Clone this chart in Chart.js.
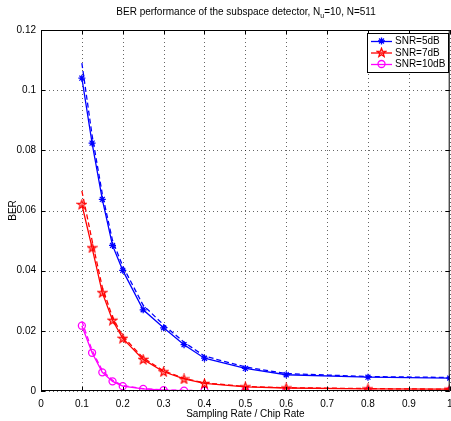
<!DOCTYPE html>
<html>
<head>
<meta charset="utf-8">
<script src="https://cdn.jsdelivr.net/npm/chart.js@4"></script>
<style>
  html, body { margin: 0; background: #fff; overflow: hidden; }
  canvas { display: block; }
</style>
</head>
<body>
<!-- a bit wider than the window so the right axis lands on the edge like the original -->
<canvas id="myChart" width="456" height="421"></canvas>
<script>
// sampling rate / chip rate
const xVals = [0.1, 0.125, 0.15, 0.175, 0.2, 0.25, 0.3, 0.35, 0.4, 0.5, 0.6, 0.8, 1.0];

// simulated (solid + markers) and analytical (dashed) BER
const ber5 = [0.104, 0.0824, 0.0637, 0.0484, 0.0401, 0.0270, 0.0210, 0.0154, 0.0109, 0.0075, 0.0054, 0.0046, 0.0043];
const ber5Theory = [0.109, 0.0850, 0.0655, 0.0500, 0.0415, 0.0285, 0.0220, 0.0162, 0.0116, 0.0080, 0.0058, 0.0048, 0.0045];
const ber7 = [0.062, 0.0476, 0.0327, 0.0235, 0.0175, 0.0105, 0.0064, 0.0040, 0.0025, 0.0014, 0.0010, 0.0007, 0.0006];
const ber7Theory = [0.0665, 0.0500, 0.0345, 0.0245, 0.0182, 0.0110, 0.0067, 0.0042, 0.0027, 0.0015, 0.0011, 0.0008, 0.0006];
const ber10 = [0.0217, 0.0127, 0.0062, 0.0032, 0.0016, 0.0007, 0.0003, 0.0001, 0.0001, 0, 0, 0, 0];
const ber10Theory = [0.0232, 0.0135, 0.0068, 0.0036, 0.0018, 0.0008, 0.0004, 0.0002, 0.0001, 0, 0, 0, 0];

const seriesLabels = ["SNR=5dB", "SNR=7dB", "SNR=10dB"];
const xTickLabels = ["0", "0.1", "0.2", "0.3", "0.4", "0.5", "0.6", "0.7", "0.8", "0.9", "1"];
const yTickLabels = ["0", "0.02", "0.04", "0.06", "0.08", "0.1", "0.12"];

const FONT = '"Liberation Sans", Arial, Helvetica, sans-serif';

// matlab style pentagram marker
const pentagram = (() => {
    const c = document.createElement("canvas");
    c.width = 11; c.height = 11;
    const g = c.getContext("2d");
    g.strokeStyle = "#ff0000";
    g.fillStyle = "rgba(255,0,0,0.35)";
    g.lineWidth = 1.2;
    g.beginPath();
    for (let i = 0; i < 10; i++) {
        const r = i % 2 ? 1.9 : 4.6;
        const a = -Math.PI / 2 + i * Math.PI / 5;
        g.lineTo(5.5 + r * Math.cos(a), 5.8 + r * Math.sin(a));
    }
    g.closePath();
    g.fill();
    g.stroke();
    return c;
})();

const pts = arr => arr.map((y, i) => ({ x: xVals[i], y: y }));

const solid = (label, data, color, style, radius) => ({
    label: label,
    data: pts(data),
    borderColor: color,
    backgroundColor: "rgba(0,0,0,0)",
    borderWidth: 1.3,
    pointStyle: style,
    pointRadius: radius,
    pointBorderColor: color,
    pointBorderWidth: 1.3,
    tension: 0
});

const dashed = (data, color) => ({
    label: "",
    data: pts(data),
    borderColor: color,
    borderWidth: 1.3,
    borderDash: [5, 3],
    pointRadius: 0,
    tension: 0
});

// dotted grid under the data
const dottedGrid = {
    id: "dottedGrid",
    beforeDatasetsDraw(chart) {
        const ctx = chart.ctx;
        const a = chart.chartArea;
        const xs = chart.scales.x, ys = chart.scales.y;
        ctx.save();
        ctx.strokeStyle = "rgba(0,0,0,0.6)";
        ctx.lineWidth = 1;
        ctx.setLineDash([1, 3]);
        ctx.beginPath();
        xs.ticks.forEach(t => {
            const px = Math.round(xs.getPixelForValue(t.value)) + 0.5;
            ctx.moveTo(px, a.bottom); ctx.lineTo(px, a.top);
        });
        ys.ticks.forEach(t => {
            const py = Math.round(ys.getPixelForValue(t.value)) + 0.5;
            ctx.moveTo(a.left, py); ctx.lineTo(a.right, py);
        });
        ctx.stroke();
        ctx.restore();
    }
};

// title, axes box, inward ticks and legend
const decor = {
    id: "decor",
    afterDraw(chart) {
        const ctx = chart.ctx;
        const a = chart.chartArea;
        const xs = chart.scales.x, ys = chart.scales.y;
        ctx.save();

        // box
        ctx.strokeStyle = "#000";
        ctx.lineWidth = 1;
        ctx.strokeRect(a.left + 0.5, a.top + 0.5, a.right - a.left - 1, a.bottom - a.top - 1);

        // ticks pointing in
        ctx.beginPath();
        xs.ticks.forEach(t => {
            const px = Math.round(xs.getPixelForValue(t.value)) + 0.5;
            ctx.moveTo(px, a.bottom); ctx.lineTo(px, a.bottom - 4);
            ctx.moveTo(px, a.top); ctx.lineTo(px, a.top + 4);
        });
        ys.ticks.forEach(t => {
            const py = Math.round(ys.getPixelForValue(t.value)) + 0.5;
            ctx.moveTo(a.left, py); ctx.lineTo(a.left + 4, py);
            ctx.moveTo(a.right, py); ctx.lineTo(a.right - 4, py);
        });
        ctx.stroke();

        // title with subscript
        const p1 = "BER performance of the subspace detector, N";
        const sub = "u";
        const p2 = "=10, N=511";
        ctx.fillStyle = "#000";
        ctx.textBaseline = "middle";
        ctx.textAlign = "left";
        ctx.font = "10px " + FONT;
        const w1 = ctx.measureText(p1).width, w3 = ctx.measureText(p2).width;
        ctx.font = "7px " + FONT;
        const w2 = ctx.measureText(sub).width;
        let tx = 246 - (w1 + w2 + w3) / 2;
        const ty = 12;
        ctx.font = "10px " + FONT;
        ctx.fillText(p1, tx, ty);
        ctx.font = "7px " + FONT;
        ctx.fillText(sub, tx + w1, ty + 4);
        ctx.font = "10px " + FONT;
        ctx.fillText(p2, tx + w1 + w2, ty);

        // legend
        const lx = 367, ly = 33, lw = 81, lh = 39;
        ctx.fillStyle = "#fff";
        ctx.fillRect(lx, ly, lw, lh);
        ctx.strokeStyle = "#000";
        ctx.strokeRect(lx + 0.5, ly + 0.5, lw, lh);
        const colors = ["#0000ff", "#ff0000", "#ff00ff"];
        seriesLabels.forEach((lab, i) => {
            const yy = ly + 8 + i * 11.5;
            ctx.strokeStyle = colors[i];
            ctx.lineWidth = 1.3;
            ctx.beginPath();
            ctx.moveTo(lx + 4, yy + 0.5); ctx.lineTo(lx + 25, yy + 0.5);
            ctx.stroke();
            const mx = lx + 14.5;
            if (i === 0) {
                ctx.beginPath();
                const r = 3.5;
                for (let k = 0; k < 4; k++) {
                    const ang = k * Math.PI / 4;
                    ctx.moveTo(mx - r * Math.cos(ang), yy - r * Math.sin(ang));
                    ctx.lineTo(mx + r * Math.cos(ang), yy + r * Math.sin(ang));
                }
                ctx.stroke();
            } else if (i === 1) {
                ctx.drawImage(pentagram, mx - 5.5, yy - 5.5);
            } else {
                ctx.beginPath();
                ctx.arc(mx, yy, 3.5, 0, Math.PI * 2);
                ctx.stroke();
            }
            ctx.fillStyle = "#000";
            ctx.font = "10px " + FONT;
            ctx.fillText(lab, lx + 28, yy + 0.5);
        });

        ctx.restore();
    }
};

new Chart(document.getElementById("myChart"), {
    type: "line",
    data: {
        datasets: [
            dashed(ber5Theory, "#0000ff"),
            solid(seriesLabels[0], ber5, "#0000ff", "star", 3.5),
            dashed(ber7Theory, "#ff0000"),
            solid(seriesLabels[1], ber7, "#ff0000", pentagram, 5),
            dashed(ber10Theory, "#ff00ff"),
            solid(seriesLabels[2], ber10, "#ff00ff", "circle", 3.5)
        ]
    },
    options: {
        responsive: false,
        animation: false,
        devicePixelRatio: 1,
        layout: { padding: { top: 30, left: 0, right: 0, bottom: 0 } },
        plugins: {
            legend: { display: false },
            tooltip: { enabled: false },
            title: { display: false }
        },
        scales: {
            x: {
                type: "linear",
                min: 0, max: 1,
                afterFit: s => { s.height = 30; s.paddingLeft = 0; s.paddingRight = 0; },
                ticks: {
                    stepSize: 0.1,
                    padding: 7,
                    maxRotation: 0,
                    autoSkip: false,
                    color: "#000",
                    font: { family: FONT, size: 10 },
                    callback: (v, i) => xTickLabels[i]
                },
                grid: { display: false, drawTicks: false },
                border: { display: false },
                title: {
                    display: true,
                    text: "Sampling Rate / Chip Rate",
                    color: "#000",
                    font: { family: FONT, size: 10 },
                    padding: { top: 0, bottom: 1 }
                }
            },
            y: {
                min: 0, max: 0.12,
                afterFit: s => { s.width = 41; s.paddingTop = 0; s.paddingBottom = 0; },
                ticks: {
                    stepSize: 0.02,
                    padding: 5,
                    color: "#000",
                    font: { family: FONT, size: 10 },
                    callback: (v, i) => yTickLabels[i]
                },
                grid: { display: false, drawTicks: false },
                border: { display: false },
                title: {
                    display: true,
                    text: "BER",
                    color: "#000",
                    font: { family: FONT, size: 10 },
                    padding: { top: 7, bottom: 0 }
                }
            }
        }
    },
    plugins: [dottedGrid, decor]
});
</script>
</body>
</html>
